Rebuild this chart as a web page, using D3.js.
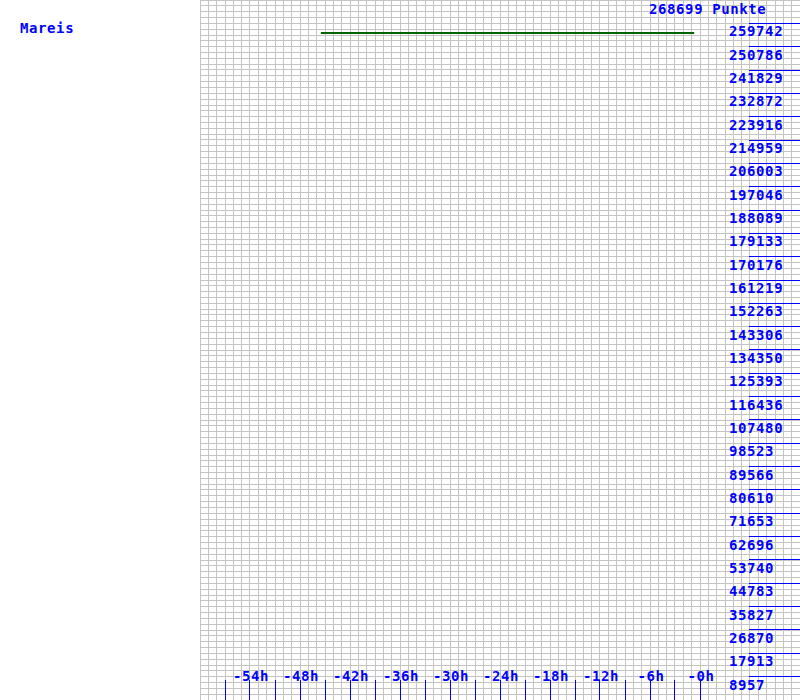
<!DOCTYPE html>
<html>
<head>
<meta charset="utf-8">
<script src="https://cdn.jsdelivr.net/npm/d3@7"></script>
<style>
  html, body { margin: 0; padding: 0; background: #fff; }
  svg { display: block; }
  text { font-family: "DejaVu Sans Mono", monospace; font-size: 14px; font-weight: bold; letter-spacing: 0.6px; fill: #0000ff; }
</style>
</head>
<body>
<svg id="chart" width="800" height="700"></svg>
<script>
// ---- data ----
const playerName = "Mareis";
const maxPoints = 268699;
const maxLabel = "268699 Punkte";
const yTickLabels = [8957, 17913, 26870, 35827, 44783, 53740, 62696, 71653, 80610, 89566,
  98523, 107480, 116436, 125393, 134350, 143306, 152263, 161219, 170176, 179133,
  188089, 197046, 206003, 214959, 223916, 232872, 241829, 250786, 259742];
const xTickHours = [-57, -54, -51, -48, -45, -42, -39, -36, -33, -30, -27, -24, -21, -18, -15, -12, -9, -6, -3, 0];
const xLabelHours = [-54, -48, -42, -36, -30, -24, -18, -12, -6, 0];
const seriesHours = [-45.5, -0.7];
const seriesPoints = [256000, 256000];

// ---- scales ----
const svg = d3.select("#chart");
const x = d3.scaleLinear().domain([-60, 12]).range([200, 800]);
const y = d3.scaleLinear().domain([0, maxPoints]).range([700, 0]);

// ---- grid ----
const grid = svg.append("g").attr("stroke", "#c4c4c4").attr("stroke-width", 1).attr("shape-rendering", "crispEdges");
grid.selectAll("line.v").data(d3.range(-60, 13, 1)).join("line")
  .attr("x1", d => Math.floor(x(d)) + 0.5).attr("x2", d => Math.floor(x(d)) + 0.5)
  .attr("y1", 0).attr("y2", 700);
grid.selectAll("line.h").data(d3.range(0, 121).map(i => i * maxPoints / 120)).join("line")
  .attr("x1", 200).attr("x2", 800)
  .attr("y1", d => Math.floor(y(d)) + 0.5).attr("y2", d => Math.floor(y(d)) + 0.5);

// ---- y axis ticks and labels ----
const yAxis = svg.append("g");
yAxis.selectAll("line").data(yTickLabels).join("line")
  .attr("x1", 749).attr("x2", 800)
  .attr("y1", d => Math.floor(y(d)) + 0.5).attr("y2", d => Math.floor(y(d)) + 0.5)
  .attr("stroke", "#0000ff").attr("stroke-width", 1).attr("shape-rendering", "crispEdges");
yAxis.selectAll("text").data(yTickLabels).join("text")
  .attr("x", 729).attr("y", d => y(d) + 13)
  .text(d => d);

// ---- x axis ticks and labels ----
const xAxis = svg.append("g");
xAxis.selectAll("line").data(xTickHours).join("line")
  .attr("x1", d => Math.floor(x(d)) + 0.5).attr("x2", d => Math.floor(x(d)) + 0.5)
  .attr("y1", 680).attr("y2", 700)
  .attr("stroke", "#0000ff").attr("stroke-width", 1).attr("shape-rendering", "crispEdges");
xAxis.selectAll("text").data(xLabelHours).join("text")
  .attr("x", d => x(d) + 1).attr("y", 681).attr("text-anchor", "middle")
  .text(d => "-" + Math.abs(d) + "h");

// ---- series ----
const line = d3.line().x(d => x(d[0])).y(d => y(d[1]));
svg.append("path")
  .datum(seriesHours.map((h, i) => [h, seriesPoints[i]]))
  .attr("d", line)
  .attr("fill", "none").attr("stroke", "#006400").attr("stroke-width", 2);

// ---- titles ----
svg.append("text").attr("x", 20).attr("y", 33).text(playerName);
svg.append("text").attr("x", 649).attr("y", 13.5).text(maxLabel);
</script>
</body>
</html>
